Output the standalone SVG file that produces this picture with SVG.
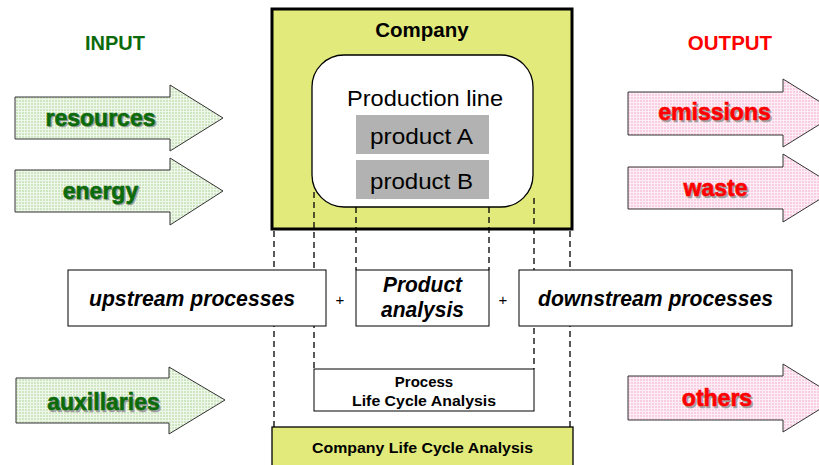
<svg xmlns="http://www.w3.org/2000/svg" width="819" height="465" viewBox="0 0 819 465">
  <style>
    text { font-family: "Liberation Sans", Arial, sans-serif; }
    .lbl-in { font-size: 20px; font-weight: bold; fill: #0b6b0b; text-anchor: middle; }
    .lbl-out { font-size: 20.5px; font-weight: bold; fill: #ff0000; text-anchor: middle; }
    .arr-in { fill: url(#gridGreen); stroke: #333; stroke-width: 1; }
    .arr-out { fill: url(#gridPink); stroke: #333; stroke-width: 1; }
    .t-in { font-size: 23px; font-weight: bold; fill: #0b6b0b; stroke: #0b6b0b; stroke-width: 0.6; text-anchor: middle; }
    .t-out { font-size: 23px; font-weight: bold; fill: #ff0000; stroke: #ff0000; stroke-width: 0.6; text-anchor: middle; }
    .shadow { fill: #a0a0a0; stroke: #a0a0a0; }
    .box { fill: #ffffff; stroke: #000; stroke-width: 1; }
    .yg { fill: #e1ea7a; stroke: #000; }
    .proc { font-size: 22.5px; font-weight: bold; font-style: italic; fill: #000; }
    .small { font-size: 15px; font-weight: bold; fill: #000; text-anchor: middle; }
    .prod { font-size: 22.5px; fill: #000; text-anchor: middle; }
    .dash { stroke: #000; stroke-width: 1.3; stroke-dasharray: 6 4; fill: none; }
    .plus { font-size: 15px; fill: #000; text-anchor: middle; }
  </style>
  <defs>
    <pattern id="gridGreen" width="3" height="3" patternUnits="userSpaceOnUse">
      <rect width="3" height="3" fill="#cfe6c2"/>
      <path d="M0 0.5H3M0.5 0V3" stroke="#eef7ea" stroke-width="1"/>
    </pattern>
    <pattern id="gridPink" width="3" height="3" patternUnits="userSpaceOnUse">
      <rect width="3" height="3" fill="#f9cde2"/>
      <path d="M0 0.5H3M0.5 0V3" stroke="#fdeef5" stroke-width="1"/>
    </pattern>
  </defs>

  <rect width="819" height="465" fill="#ffffff"/>

  <!-- column labels -->
  <text class="lbl-in" x="115" y="50">INPUT</text>
  <text class="lbl-out" x="730" y="50">OUTPUT</text>

  <!-- company box -->
  <g id="company">
    <rect class="yg" x="272" y="9" width="300" height="220" stroke-width="3"/>
    <text x="422" y="37" font-size="20.5" font-weight="bold" text-anchor="middle">Company</text>
  </g>

  <!-- boundary lines -->
  <g id="connectors">
    <line class="dash" x1="274" y1="231" x2="274" y2="427"/>
    <line class="dash" x1="570" y1="231" x2="570" y2="427"/>
    <line class="dash" x1="314" y1="192" x2="314" y2="369"/>
    <line class="dash" x1="534" y1="198" x2="534" y2="369"/>
    <line class="dash" x1="356" y1="207" x2="356" y2="270"/>
    <line class="dash" x1="489" y1="207" x2="489" y2="270"/>
  </g>

  <g id="production-line">
    <rect x="312" y="55" width="221" height="152" rx="32" ry="32" fill="#ffffff" stroke="#000" stroke-width="1.3"/>
    <text class="prod" x="425" y="106" textLength="156" lengthAdjust="spacingAndGlyphs">Production line</text>
  </g>
  <g id="product-a">
    <rect x="356" y="115" width="133" height="39" fill="#b2b2b2"/>
    <text class="prod" x="421.5" y="144" textLength="103" lengthAdjust="spacingAndGlyphs">product A</text>
  </g>
  <g id="product-b">
    <rect x="356" y="160" width="133" height="39" fill="#b2b2b2"/>
    <text class="prod" x="421.5" y="189" textLength="103" lengthAdjust="spacingAndGlyphs">product B</text>
  </g>

  <!-- input arrows -->
  <g id="resources">
    <path class="arr-in" d="M15 97H170V85L223 118L170 151V139H15Z"/>
    <text class="t-in shadow" x="102" y="127">resources</text>
    <text class="t-in" x="100.5" y="125.5">resources</text>
  </g>
  <g id="energy">
    <path class="arr-in" d="M15 170H170V158L223 191L170 225V212H15Z"/>
    <text class="t-in shadow" x="102" y="200">energy</text>
    <text class="t-in" x="100.5" y="198.5">energy</text>
  </g>
  <g id="auxillaries">
    <path class="arr-in" d="M16 378H169V367L225 400L169 434V423H16Z"/>
    <text class="t-in shadow" x="105" y="411.5">auxillaries</text>
    <text class="t-in" x="103.5" y="410">auxillaries</text>
  </g>

  <!-- output arrows -->
  <g id="emissions">
    <path class="arr-out" d="M628 92H783V79L838 113L783 147V135H628Z"/>
    <text class="t-out shadow" x="716" y="121.5">emissions</text>
    <text class="t-out" x="714.5" y="120">emissions</text>
  </g>
  <g id="waste">
    <path class="arr-out" d="M628 167H783V154L838 188L783 222V209H628Z"/>
    <text class="t-out shadow" x="717" y="197.5">waste</text>
    <text class="t-out" x="715.5" y="196">waste</text>
  </g>
  <g id="others">
    <path class="arr-out" d="M628 376H783V364L838 398L783 432V420H628Z"/>
    <text class="t-out shadow" x="718.5" y="407.5">others</text>
    <text class="t-out" x="717" y="406">others</text>
  </g>

  <!-- analysis scope boxes -->
  <g id="upstream">
    <rect class="box" x="68" y="270" width="258" height="56"/>
    <text class="proc" x="89" y="306" textLength="206" lengthAdjust="spacingAndGlyphs">upstream processes</text>
  </g>
  <text class="plus" x="340" y="305">+</text>
  <g id="product-analysis">
    <rect class="box" x="356" y="270" width="133" height="56"/>
    <text class="proc" x="383" y="292" textLength="79" lengthAdjust="spacingAndGlyphs">Product</text>
    <text class="proc" x="381" y="317" textLength="83" lengthAdjust="spacingAndGlyphs">analysis</text>
  </g>
  <text class="plus" x="503" y="305">+</text>
  <g id="downstream">
    <rect class="box" x="519" y="270" width="273" height="56"/>
    <text class="proc" x="538" y="306" textLength="235" lengthAdjust="spacingAndGlyphs">downstream processes</text>
  </g>

  <g id="process-lca">
    <rect class="box" x="314" y="369" width="220" height="42"/>
    <text class="small" x="424" y="387">Process</text>
    <text class="small" x="424" y="406" textLength="144" lengthAdjust="spacingAndGlyphs">Life Cycle Analysis</text>
  </g>
  <g id="company-lca">
    <rect class="yg" x="272" y="427" width="301" height="45" stroke-width="1.3"/>
    <text class="small" x="422.5" y="453" textLength="221" lengthAdjust="spacingAndGlyphs">Company Life Cycle Analysis</text>
  </g>
</svg>
